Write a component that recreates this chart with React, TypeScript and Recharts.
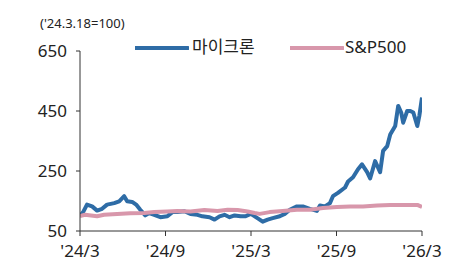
import React from "react";
import { LineChart, Line, XAxis, YAxis } from "recharts";

// months since '24/3 (2024-03-18)
const micronMonths = [0, 0.21, 0.49, 0.85, 1.2, 1.55, 1.9, 2.4, 2.75, 3.1, 3.31, 3.66, 3.94, 4.23, 4.58, 4.86, 5.21, 5.64, 6.13, 6.48, 6.83, 7.33, 7.75, 8.24, 8.59, 9.09, 9.44, 9.79, 10.14, 10.5, 10.85, 11.27, 11.62, 11.98, 12.26, 12.61, 12.82, 13.17, 13.52, 14.02, 14.37, 14.72, 15.22, 15.64, 16.13, 16.62, 16.84, 17.19, 17.54, 17.75, 18.1, 18.6, 18.81, 19.16, 19.51, 19.79, 20.15, 20.36, 20.71, 21.06, 21.27, 21.56, 21.77, 22.12, 22.33, 22.54, 22.68, 22.96, 23.18, 23.39, 23.67, 23.81, 24];
const micronValues = [100, 112, 138, 132, 118, 124, 138, 143, 149, 166, 149, 147, 138, 121, 102, 110, 104, 96, 99, 113, 113, 116, 107, 104, 99, 96, 88, 99, 104, 96, 102, 99, 99, 107, 99, 88, 81, 88, 93, 99, 107, 121, 132, 132, 124, 117, 135, 132, 143, 166, 177, 195, 215, 229, 256, 272, 246, 225, 283, 246, 317, 333, 372, 400, 467, 445, 411, 450, 450, 445, 400, 433, 495];

const spxMonths = [0, 0.35, 1.2, 1.69, 2.61, 3.52, 4.51, 5.21, 6.13, 6.83, 7.75, 8.73, 9.65, 10.36, 11.06, 11.76, 12.26, 12.61, 13.31, 14.23, 15.22, 16.13, 17.05, 18.03, 18.95, 19.86, 20.85, 21.77, 22.68, 23.67, 24];
const spxValues = [100, 104, 99, 104, 107, 109, 110, 113, 115, 117, 115, 120, 117, 121, 120, 115, 110, 107, 113, 117, 121, 121, 127, 130, 132, 132, 135, 137, 137, 137, 130];

const xTicks = [0, 6, 12, 18, 24];
const xTickLabels = ["'24/3", "'24/9", "'25/3", "'25/9", "'26/3"];
const yTicks = [50, 250, 450, 650];

const seriesNames = ["마이크론", "S&P500"];
const unitLabel = "('24.3.18=100)";

const BLUE = "#2E6CA6";
const PINK = "#D897AB";
const FONT = "'Noto Sans', 'Noto Sans CJK KR', sans-serif";

const micronData = micronMonths.map((t, i) => ({ t, v: micronValues[i] }));
const spxData = spxMonths.map((t, i) => ({ t, v: spxValues[i] }));

export default function App() {
  return (
    <div style={{ position: "absolute", left: 0, top: 0, width: 474, height: 262, background: "#fff", fontFamily: FONT }}>
      <div style={{ position: "absolute", left: 40, top: 16, fontSize: 13, lineHeight: "14px", color: "#222", whiteSpace: "nowrap" }}>{unitLabel}</div>
      <div style={{ position: "absolute", left: 135, top: 38, height: 18, display: "flex", alignItems: "center", whiteSpace: "nowrap" }}>
        <svg width={54} height={18}><line x1={0} y1={10} x2={53} y2={10} stroke={BLUE} strokeWidth={4} strokeLinecap="round" /></svg>
        <span style={{ fontSize: 17, color: "#222", marginLeft: 3, lineHeight: "18px" }}>{seriesNames[0]}</span>
      </div>
      <div style={{ position: "absolute", left: 290, top: 38, height: 18, display: "flex", alignItems: "center", whiteSpace: "nowrap" }}>
        <svg width={54} height={18}><line x1={0} y1={10} x2={53} y2={10} stroke={PINK} strokeWidth={4} strokeLinecap="round" /></svg>
        <span style={{ fontSize: 17, color: "#222", marginLeft: 1, lineHeight: "18px" }}>{seriesNames[1]}</span>
      </div>
      <LineChart width={474} height={262} margin={{ top: 51, right: 52, bottom: 0, left: 0 }} style={{ position: "absolute", left: 0, top: 0 }}>
        <XAxis
          type="number"
          dataKey="t"
          domain={[0, 24]}
          ticks={xTicks}
          tickFormatter={(v: number) => xTickLabels[xTicks.indexOf(v)] ?? ""}
          height={31}
          tickSize={5}
          tickMargin={9}
          stroke="#333"
          tick={{ fill: "#222", fontSize: 17, fontFamily: FONT }}
          allowDataOverflow
          interval={0}
        />
        <YAxis
          type="number"
          domain={[50, 650]}
          ticks={yTicks}
          width={80}
          tickSize={4}
          tickMargin={9}
          stroke="#333"
          tick={{ fill: "#222", fontSize: 17, fontFamily: FONT }}
          interval={0}
        />
        <Line data={micronData} dataKey="v" type="linear" stroke={BLUE} strokeWidth={4} dot={false} isAnimationActive={false} strokeLinejoin="round" />
        <Line data={spxData} dataKey="v" type="linear" stroke={PINK} strokeWidth={4} dot={false} isAnimationActive={false} strokeLinejoin="round" />
      </LineChart>
    </div>
  );
}
